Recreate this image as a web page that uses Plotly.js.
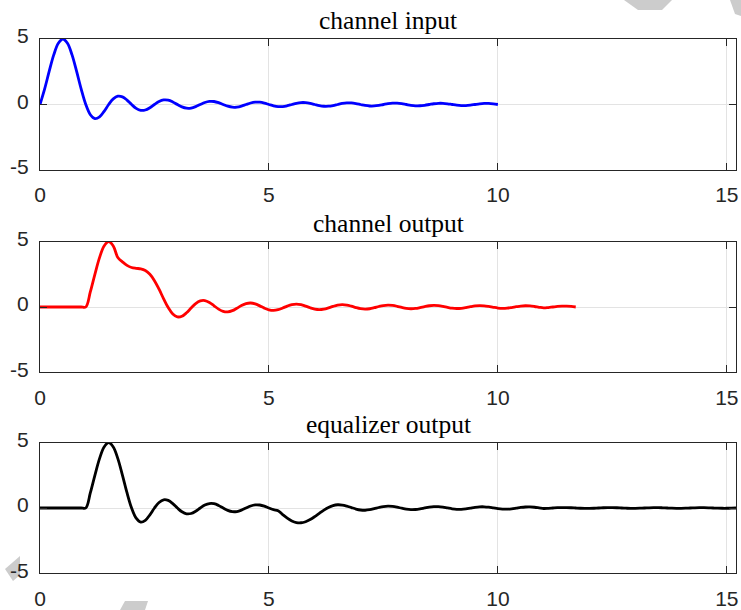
<!DOCTYPE html>
<html>
<head>
<meta charset="utf-8">
<script src="https://cdn.plot.ly/plotly-3.0.1.min.js"></script>
<style>html,body{margin:0;padding:0;background:#fff;}#chart{width:741px;height:610px;}</style>
</head>
<body>
<div id="chart"></div>
<script>
// ---- data ----
var time = [0,0.1,0.2,0.3,0.4,0.5,0.6,0.7,0.8,0.9,
1,1.1,1.2,1.3,1.4,1.5,1.6,1.7,1.8,1.9,
2,2.1,2.2,2.3,2.4,2.5,2.6,2.7,2.8,2.9,
3,3.1,3.2,3.3,3.4,3.5,3.6,3.7,3.8,3.9,
4,4.1,4.2,4.3,4.4,4.5,4.6,4.7,4.8,4.9,
5,5.1,5.2,5.3,5.4,5.5,5.6,5.7,5.8,5.9,
6,6.1,6.2,6.3,6.4,6.5,6.6,6.7,6.8,6.9,
7,7.1,7.2,7.3,7.4,7.5,7.6,7.7,7.8,7.9,
8,8.1,8.2,8.3,8.4,8.5,8.6,8.7,8.8,8.9,
9,9.1,9.2,9.3,9.4,9.5,9.6,9.7,9.8,9.9,
10,10.1,10.2,10.3,10.4,10.5,10.6,10.7,10.8,10.9,
11,11.1,11.2,11.3,11.4,11.5,11.6,11.7,11.8,11.9,
12,12.1,12.2,12.3,12.4,12.5,12.6,12.7,12.8,12.9,
13,13.1,13.2,13.3,13.4,13.5,13.6,13.7,13.8,13.9,
14,14.1,14.2,14.3,14.4,14.5,14.6,14.7,14.8,14.9,
15,15.1,15.2];

var channelInput = [0,1.169,2.523,3.784,4.677,5,4.677,3.784,2.523,1.169,
0,-0.780,-1.081,-0.946,-0.520,0,0.425,0.631,0.582,0.334,
0,-0.292,-0.445,-0.420,-0.246,0,0.223,0.344,0.329,0.195,
0,-0.180,-0.280,-0.270,-0.161,0,0.151,0.237,0.229,0.138,
0,-0.130,-0.205,-0.199,-0.120,0,0.114,0.180,0.176,0.106,
0,-0.102,-0.161,-0.158,-0.095,0,0.092,0.146,0.143,0.087,
0,-0.084,-0.133,-0.130,-0.079,0,0.077,0.122,0.120,0.073,
0,-0.071,-0.113,-0.111,-0.068,0,0.066,0.105,0.104,0.063,
0,-0.062,-0.098,-0.097,-0.059,0,0.058,0.092,0.091,0.056,
0,-0.054,-0.087,-0.086,-0.053,0,0.051,0.082,0.081,0.050,
0];

var channelOutput = [0,0,0,0,0,0,0,0,0,0,
0,1.169,2.523,3.784,4.677,5,4.677,3.784,3.458,3.187,
3.027,2.962,2.919,2.796,2.507,2.018,1.360,0.631,-0.042,-0.531,
-0.757,-0.708,-0.445,-0.080,0.259,0.466,0.490,0.344,0.095,-0.161,
-0.336,-0.377,-0.280,-0.092,0.114,0.263,0.307,0.237,0.085,-0.086,
-0.216,-0.259,-0.205,-0.078,0.070,0.183,0.224,0.180,0.072,-0.058,
-0.159,-0.198,-0.161,-0.067,0.049,0.141,0.177,0.146,0.061,-0.042,
-0.126,-0.160,-0.133,-0.056,0.038,0.114,0.147,0.122,0.053,-0.033,
-0.104,-0.134,-0.113,-0.049,0.030,0.096,0.124,0.105,0.047,-0.027,
-0.089,-0.116,-0.098,-0.044,0.025,0.083,0.108,0.092,0.041,-0.022,
-0.078,-0.101,-0.087,-0.040,0.021,0.073,0.096,0.082,0.038,-0.020,
-0.069,-0.042,0,0.041,0.066,0.065,0.040,0];

var equalizerOutput = [0,0,0,0,0,0,0,0,0,0,
0,1.169,2.523,3.784,4.677,5,4.677,3.784,2.523,1.169,
0,-0.780,-1.081,-0.946,-0.520,0,0.425,0.631,0.582,0.334,
0,-0.292,-0.445,-0.420,-0.246,0,0.223,0.344,0.329,0.195,
0,-0.180,-0.280,-0.270,-0.161,0,0.151,0.237,0.229,0.138,
0,-0.130,-0.205,-0.505,-0.781,-0.991,-1.111,-1.130,-1.049,-0.885,
-0.661,-0.408,-0.161,0.046,0.188,0.248,0.228,0.146,0.032,-0.078,
-0.152,-0.172,-0.133,-0.053,0.038,0.110,0.141,0.122,0.062,-0.017,
-0.086,-0.122,-0.113,-0.064,0.005,0.071,0.108,0.105,0.064,0.001,
-0.060,-0.098,-0.098,-0.063,-0.005,0.052,0.089,0.092,0.061,0.009,
-0.046,-0.082,-0.087,-0.059,-0.011,0.041,0.076,0.082,0.057,0.012,
-0.037,-0.023,0,0.022,0.035,0.034,0.021,0,-0.020,-0.032,
-0.031,-0.019,0,0.019,0.030,0.029,0.018,0,-0.017,-0.028,
-0.027,-0.017,0,0.016,0.026,0.025,0.015,0,-0.015,-0.024,
-0.024,-0.015,0,0.014,0.023,0.023,0.014,0,-0.013,-0.021,
-0.021,-0.013,0];

var panelTitles = ['channel input', 'channel output', 'equalizer output'];
var seriesColors = ['#0000ff', '#ff0000', '#000000'];
var xTickVals = [0, 5, 10, 15];
var xTickText = ['0', '5', '10', '15'];
var yTickVals = [-5, 0, 5];
var yTickText = ['-5', '0', '5'];

// ---- layout helpers ----
var W = 741, H = 610;
var xDom = [40 / W, 736 / W];
var yDoms = [[1 - 170 / H, 1 - 39 / H], [1 - 372.3 / H, 1 - 241.7 / H], [1 - 573.3 / H, 1 - 442.7 / H]];
var seriesList = [channelInput, channelOutput, equalizerOutput];

var traces = [];
var layout = {
  width: W, height: H, autosize: false,
  margin: {l: 0, r: 0, t: 0, b: 0, pad: 0},
  paper_bgcolor: '#ffffff', plot_bgcolor: '#ffffff',
  showlegend: false,
  annotations: [], shapes: []
};

for (var i = 0; i < 3; i++) {
  var s = (i === 0) ? '' : String(i + 1);
  traces.push({
    x: time.slice(0, seriesList[i].length),
    y: seriesList[i],
    xaxis: 'x' + s, yaxis: 'y' + s,
    type: 'scatter', mode: 'lines',
    line: {color: seriesColors[i], width: 2.8, shape: 'spline', smoothing: 1},
    hoverinfo: 'skip'
  });
  var axCommon = {
    showline: true, linecolor: '#262626', linewidth: 1, mirror: 'ticks',
    ticks: 'inside', ticklen: 7, tickwidth: 1, tickcolor: '#262626',
    showgrid: true, gridcolor: '#e3e3e3', gridwidth: 1, zeroline: false,
    tickfont: {family: 'Liberation Sans, Arial, sans-serif', size: 21, color: '#262626'},
    automargin: false, fixedrange: true
  };
  layout['xaxis' + s] = Object.assign({}, axCommon, {
    domain: xDom, range: [0, 15.2], anchor: 'y' + s,
    tickmode: 'array', tickvals: xTickVals, ticktext: xTickText,
    ticklabelstandoff: 6
  });
  layout['yaxis' + s] = Object.assign({}, axCommon, {
    domain: yDoms[i], range: [-5, 5], anchor: 'x' + s,
    tickmode: 'array', tickvals: yTickVals, ticktext: yTickText,
    ticklabelstandoff: 6, ticklabelshift: -3
  });
  layout.annotations.push({
    text: panelTitles[i], xref: 'paper', yref: 'paper',
    x: (xDom[0] + xDom[1]) / 2, y: yDoms[i][1],
    xanchor: 'center', yanchor: 'bottom', yshift: 2, showarrow: false,
    font: {family: 'Liberation Serif, Times New Roman, serif', size: 25.5, color: '#000000'}
  });
}

// faint watermark fragments at the picture's edges (pixel polygons)
function pathFromPx(pts) {
  return pts.map(function (p, k) { return (k ? 'L' : 'M') + (p[0] / W) + ',' + (1 - p[1] / H); }).join(' ') + ' Z';
}
var marks = [
  [[624, 0], [672, 0], [662, 10], [638, 10]],
  [[730, 0], [741, 0], [741, 16], [735, 14]],
  [[20, 556], [5, 569], [13, 581], [20, 575]],
  [[120, 610], [125, 601], [148, 601], [145, 610]]
];
marks.forEach(function (m) {
  layout.shapes.push({type: 'path', xref: 'paper', yref: 'paper', path: pathFromPx(m),
    fillcolor: '#cccccc', line: {width: 0}, layer: 'below'});
});

Plotly.newPlot('chart', traces, layout, {staticPlot: true, displayModeBar: false});
</script>
</body>
</html>
